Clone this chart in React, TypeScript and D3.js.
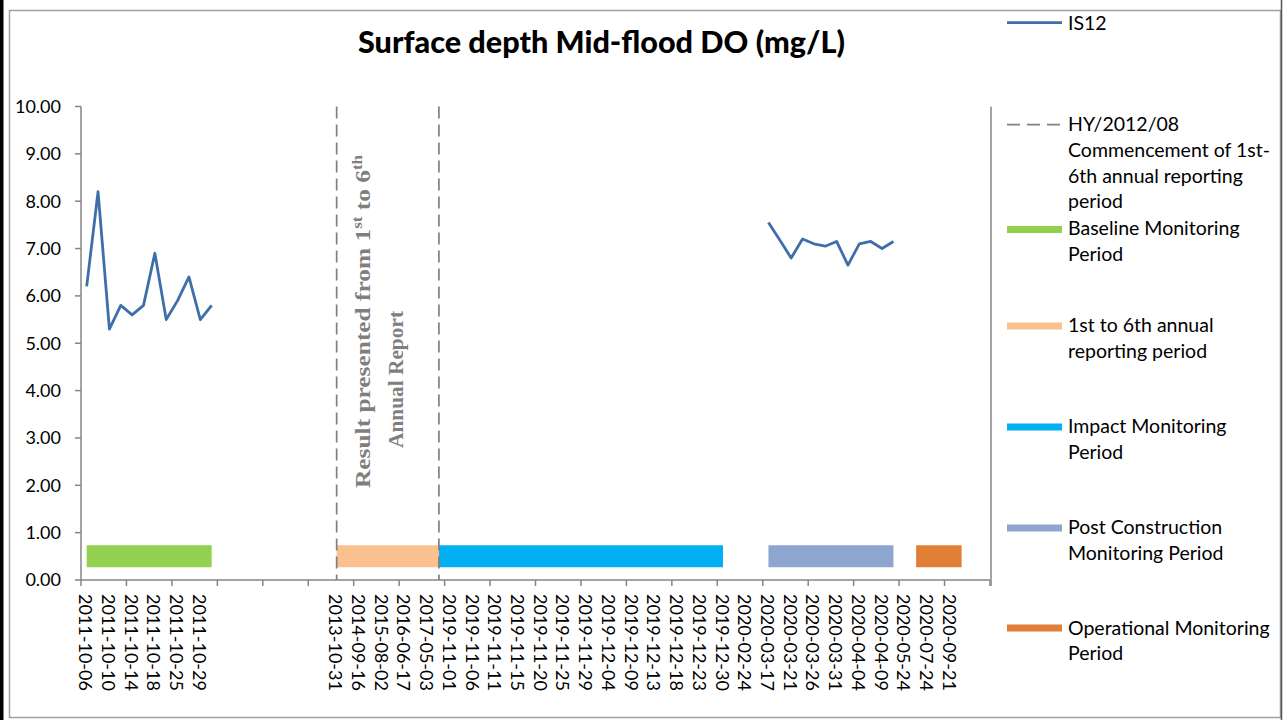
import React from "react";
import * as d3 from "d3";

// ---------- data ----------
const CATEGORY_COUNT = 80;
// one label every second category (Excel label interval = 2)
const xTickLabels = [
  "2011-10-06", "2011-10-10", "2011-10-14", "2011-10-18", "2011-10-25", "2011-10-29",
  "", "", "", "", "",
  "2013-10-31", "2014-09-16", "2015-08-02", "2016-06-17", "2017-05-03",
  "2019-11-01", "2019-11-06", "2019-11-11", "2019-11-15", "2019-11-20", "2019-11-25",
  "2019-11-29", "2019-12-04", "2019-12-09", "2019-12-13", "2019-12-18", "2019-12-23",
  "2019-12-30", "2020-02-24", "2020-03-17", "2020-03-21", "2020-03-26", "2020-03-31",
  "2020-04-04", "2020-04-09", "2020-05-24", "2020-07-24", "2020-09-21", "",
];
const LABEL_INTERVAL = 2;
const TICK_INTERVAL = 4;

const is12BaselineStart = 0;
const is12BaselineValues = [6.2, 8.2, 5.3, 5.8, 5.6, 5.8, 6.9, 5.5, 5.9, 6.4, 5.5, 5.8];
const is12PostStart = 60;
const is12PostValues = [7.55, 7.18, 6.8, 7.2, 7.1, 7.05, 7.15, 6.65, 7.1, 7.15, 7.0, 7.15];

const dividerCategories = [22, 31];

const periodNames = [
  "Baseline Monitoring Period",
  "1st to 6th annual reporting period",
  "Impact Monitoring Period",
  "Post Construction Monitoring Period",
  "Operational Monitoring Period",
];
const periodStart = [0, 22, 31, 60, 73];
const periodEnd = [11, 31, 56, 71, 77];
const periodLevel = 0.5;
const periodColors = ["#92D050", "#FAC090", "#00B0F0", "#8EA6CF", "#E07F35"];

const yTicks = [0, 1, 2, 3, 4, 5, 6, 7, 8, 9, 10];

const legendLines: { kind: string; color: string; lineY: number; text: string[]; textY: number }[] = [
  { kind: "line", color: "#3F6FAA", lineY: 22.7, text: ["IS12"], textY: 29.5 },
  { kind: "dash", color: "#808080", lineY: 124.7, text: ["HY/2012/08", "Commencement of 1st-", "6th annual reporting", "period"], textY: 131 },
  { kind: "band", color: periodColors[0], lineY: 229.5, text: ["Baseline Monitoring", "Period"], textY: 235 },
  { kind: "band", color: periodColors[1], lineY: 326, text: ["1st to 6th annual", "reporting period"], textY: 332 },
  { kind: "band", color: periodColors[2], lineY: 427, text: ["Impact Monitoring", "Period"], textY: 433 },
  { kind: "band", color: periodColors[3], lineY: 528, text: ["Post Construction", "Monitoring Period"], textY: 534 },
  { kind: "band", color: periodColors[4], lineY: 628, text: ["Operational Monitoring", "Period"], textY: 634.5 },
];

// ---------- layout ----------
const W = 1283;
const H = 720;
const plotLeft = 81;
const plotRight = 990;
const plotTop = 106.5;
const plotBottom = 580;
const FONT = "Lato, 'Open Sans', sans-serif";
const SERIF = "'Liberation Serif', 'DejaVu Serif', serif";

export default function App() {
  const x = d3.scaleLinear().domain([0, CATEGORY_COUNT]).range([plotLeft, plotRight]);
  const cx = (i: number) => x(i + 0.5);
  const y = d3.scaleLinear().domain([0, 10]).range([plotBottom, plotTop]);

  const seg = (start: number, vals: number[]) =>
    d3
      .line<number>()
      .x((_, i) => cx(start + i))
      .y((d) => y(d))(vals) as string;

  const axisTicks = d3.range(0, CATEGORY_COUNT + 1, TICK_INTERVAL);

  return (
    <svg
      width={W}
      height={H}
      style={{ position: "absolute", left: 0, top: 0, background: "#fff" }}
      fontFamily={FONT}
    >
      <rect x={0} y={0} width={W} height={H} fill="#fff" />
      {/* outer frame */}
      <rect x={0} y={0} width={3.5} height={H} fill="#000" />
      <rect x={9.5} y={10.5} width={1271} height={707} fill="none" stroke="#a0a0a0" strokeWidth={1.5} />
      <line x1={1281.5} y1={0} x2={1281.5} y2={H} stroke="#555" strokeWidth={1.5} />

      {/* title */}
      <text
        x={358}
        y={53}
        textLength={487}
        lengthAdjust="spacingAndGlyphs"
        fontSize={31}
        fontWeight={900}
        fill="#000"
      >
        Surface depth Mid-flood DO (mg/L)
      </text>

      {/* period bands */}
      {periodNames.map((p, k) => (
        <line
          key={p}
          x1={cx(periodStart[k])}
          x2={cx(periodEnd[k])}
          y1={y(periodLevel)}
          y2={y(periodLevel)}
          stroke={periodColors[k]}
          strokeWidth={22}
          strokeLinecap="butt"
        />
      ))}

      {/* axes */}
      <line x1={plotLeft} y1={plotTop} x2={plotLeft} y2={plotBottom} stroke="#868686" strokeWidth={1.5} />
      <line x1={plotRight + 1} y1={plotTop} x2={plotRight + 1} y2={plotBottom + 6} stroke="#868686" strokeWidth={1.5} />
      <line x1={plotLeft} y1={plotBottom} x2={plotRight} y2={plotBottom} stroke="#868686" strokeWidth={1.5} />
      {yTicks.map((t) => (
        <g key={t}>
          <line x1={plotLeft - 6} x2={plotLeft} y1={y(t)} y2={y(t)} stroke="#868686" strokeWidth={1.5} />
          <text x={61} y={y(t)} dy="0.36em" textAnchor="end" fontSize={18} fill="#000">
            {t.toFixed(2)}
          </text>
        </g>
      ))}
      {axisTicks.map((t) => (
        <line key={t} x1={x(t)} x2={x(t)} y1={plotBottom} y2={plotBottom + 6} stroke="#868686" strokeWidth={1.5} />
      ))}
      {xTickLabels.map((lab, j) => {
        const px = cx(j * LABEL_INTERVAL) - 1;
        const py = 594;
        return lab ? (
          <text
            key={j}
            x={px}
            y={py}
            transform={`rotate(90, ${px}, ${py})`}
            dy="0.36em"
            fontSize={18}
            fill="#000"
          >
            {lab}
          </text>
        ) : null;
      })}

      {/* divider lines */}
      {dividerCategories.map((c) => (
        <line
          key={c}
          x1={cx(c)}
          x2={cx(c)}
          y1={plotTop}
          y2={plotBottom}
          stroke="#808080"
          strokeWidth={1.7}
          strokeDasharray="12,6"
        />
      ))}

      {/* annotation */}
      <text
        x={370}
        y={488}
        transform="rotate(-90, 370, 488)"
        textLength={333}
        lengthAdjust="spacingAndGlyphs"
        fontFamily={SERIF}
        fontWeight={700}
        fontSize={21}
        fill="#7F7F7F"
      >
        Result presented from 1<tspan fontSize={14} dy={-8}>st</tspan>
        <tspan dy={8}> to 6</tspan>
        <tspan fontSize={14} dy={-8}>th</tspan>
      </text>
      <text
        x={403}
        y={448}
        transform="rotate(-90, 403, 448)"
        textLength={137}
        lengthAdjust="spacingAndGlyphs"
        fontFamily={SERIF}
        fontWeight={700}
        fontSize={21}
        fill="#7F7F7F"
      >
        Annual Report
      </text>

      {/* IS12 series */}
      <path d={seg(is12BaselineStart, is12BaselineValues)} fill="none" stroke="#3F6FAA" strokeWidth={2.8} strokeLinejoin="round" />
      <path d={seg(is12PostStart, is12PostValues)} fill="none" stroke="#3F6FAA" strokeWidth={2.8} strokeLinejoin="round" />

      {/* legend */}
      {legendLines.map((l, k) => (
        <g key={k}>
          <line
            x1={1007}
            x2={1062}
            y1={l.lineY}
            y2={l.lineY}
            stroke={l.color}
            strokeWidth={l.kind === "band" ? 7 : l.kind === "dash" ? 1.7 : 2.8}
            strokeDasharray={l.kind === "dash" ? "13,7" : undefined}
          />
          {l.text.map((t, i) => (
            <text key={i} x={1068} y={l.textY + i * 25.8} fontSize={19.5} fill="#000">
              {t}
            </text>
          ))}
        </g>
      ))}
    </svg>
  );
}
